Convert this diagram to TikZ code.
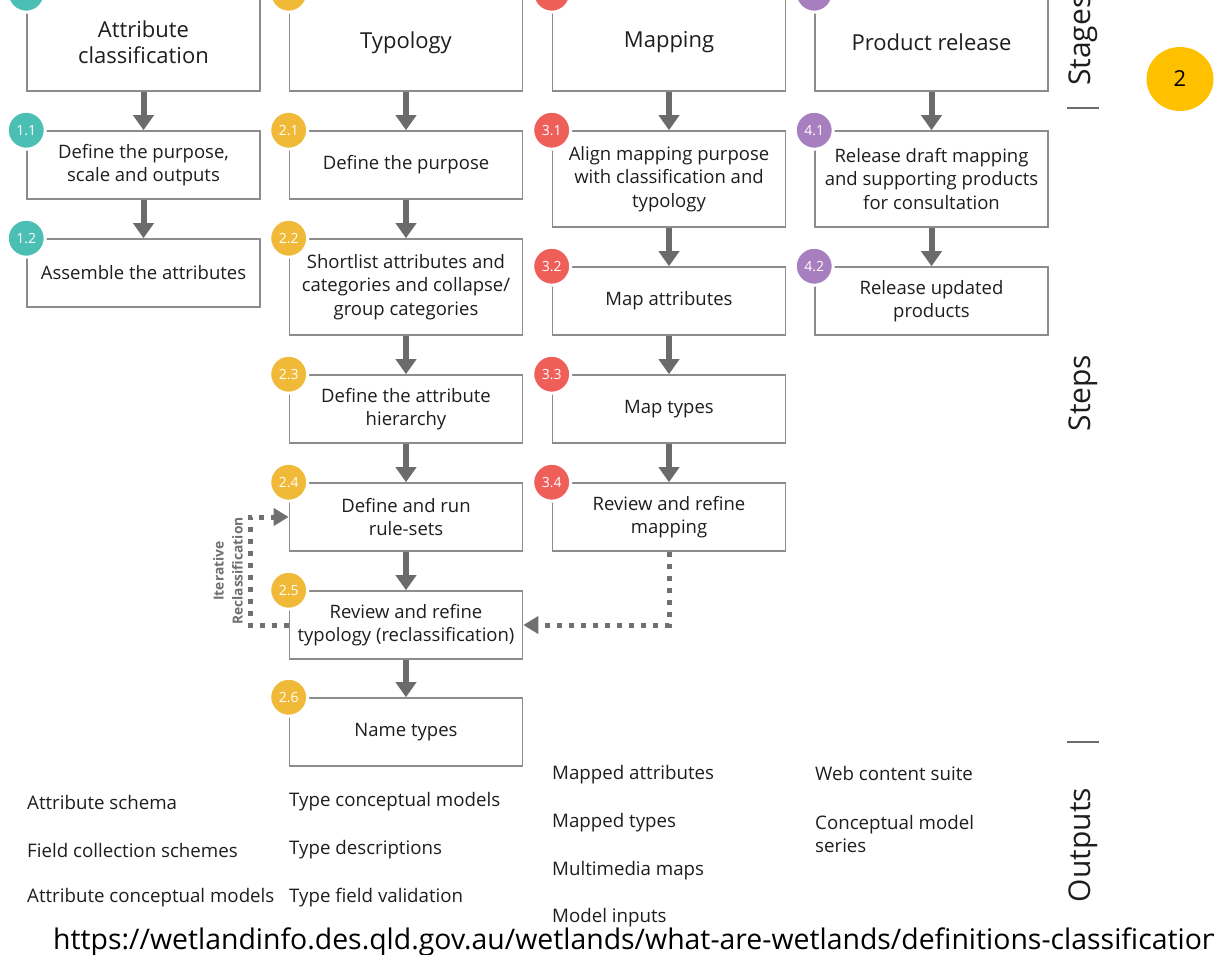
\documentclass[tikz,border=0pt]{standalone}
\usepackage{fontspec}
\setmainfont{Open Sans}
\usetikzlibrary{arrows.meta,shapes.geometric}

\definecolor{ink}{HTML}{1E1E1E}
\definecolor{boxgray}{HTML}{8C8C8C}
\definecolor{flowgray}{HTML}{6B6B6B}
\definecolor{loopgray}{HTML}{707070}
\definecolor{cTeal}{HTML}{4BBFB4}
\definecolor{cYellow}{HTML}{F1B938}
\definecolor{cRed}{HTML}{EF5F5A}
\definecolor{cPurple}{HTML}{A77FBF}
\definecolor{cGold}{HTML}{FFC000}

\newcommand\fStep{\fontsize{18.5}{23.5}\selectfont}
\newcommand\fStage{\fontsize{22}{26}\selectfont}
\newcommand\fBadge{\fontsize{14}{16}\selectfont}
\newcommand\fOut{\fontsize{18.7}{23.5}\selectfont}
\newcommand\fSide{\fontsize{30}{34}\selectfont}
\newcommand\fLink{\fontsize{28.4}{32}\selectfont}

\begin{document}
\begin{tikzpicture}[x=1pt,y=-1pt,
  box/.style={draw=boxgray, line width=1.6pt, fill=white, minimum width=233pt,
    minimum height=68pt, align=center, inner sep=0pt, font=\fStep, text=ink},
  tall/.style={minimum height=96pt},
  stagebox/.style={box, minimum height=97pt, font=\fStage},
  badge/.style={circle, draw=white, line width=3pt, minimum size=38pt,
    inner sep=0pt, font=\fBadge, text=white},
  flow/.style={draw=flowgray, line width=6pt,
    -{Triangle[width=20pt,length=15pt]}},
  loopline/.style={draw=loopgray, line width=5pt, dash pattern=on 5pt off 7pt,
    -{Triangle[width=17pt,length=15pt]}},
  outtext/.style={anchor=west, inner sep=0pt, font=\fOut, text=ink, align=left},
  side/.style={rotate=90, inner sep=0pt, font=\fSide, text=ink},
  sep/.style={draw=flowgray, line width=2.5pt}
]
\useasboundingbox (0,0) rectangle (1214,954);
\clip (0,0) rectangle (1214,954);

% stages
\node[stagebox] (s1) at (143.5,42.5) {Attribute\\classification};
\node[stagebox] (s2) at (406,42.5) {Typology};
\node[stagebox] (s3) at (669,42.5) {Mapping};
\node[stagebox] (s4) at (931.5,42.5) {Product release};

% steps of stage 1
\node[box] (s11) at (143.5,165) {Define the purpose,\\scale and outputs};
\node[box] (s12) at (143.5,273) {Assemble the attributes};

% steps of stage 2
\node[box] (s21) at (406,165) {Define the purpose};
\node[box,tall] (s22) at (406,287) {Shortlist attributes and\\categories and collapse/\\group categories};
\node[box] (s23) at (406,409) {Define the attribute\\hierarchy};
\node[box] (s24) at (406,517) {Define and run\\rule-sets};
\node[box] (s25) at (406,625) {Review and refine\\typology (reclassification)};
\node[box] (s26) at (406,732) {Name types};

% steps of stage 3
\node[box,tall] (s31) at (669,179) {Align mapping purpose\\with classification and\\typology};
\node[box] (s32) at (669,301) {Map attributes};
\node[box] (s33) at (669,409) {Map types};
\node[box] (s34) at (669,517) {Review and refine\\mapping};

% steps of stage 4
\node[box,tall] (s41) at (931.5,179) {Release draft mapping\\and supporting products\\for consultation};
\node[box] (s42) at (931.5,301) {Release updated\\products};

% sequence arrows
\draw[flow] (s1) -- (s11);
\draw[flow] (s11) -- (s12);
\draw[flow] (s2) -- (s21);
\draw[flow] (s21) -- (s22);
\draw[flow] (s22) -- (s23);
\draw[flow] (s23) -- (s24);
\draw[flow] (s24) -- (s25);
\draw[flow] (s25) -- (s26);
\draw[flow] (s3) -- (s31);
\draw[flow] (s31) -- (s32);
\draw[flow] (s32) -- (s33);
\draw[flow] (s33) -- (s34);
\draw[flow] (s4) -- (s41);
\draw[flow] (s41) -- (s42);

% feedback loops
\draw[loopline] (s34.south) |- (s25.east);
\coordinate (iterturn) at (250,625);
\draw[loopline] (s25.west) -- (iterturn) |- (s24.west);
\node[rotate=90, align=center, inner sep=0pt, text=loopgray,
  font=\fontsize{13.8}{19}\selectfont\bfseries] (iterlabel) at (228,571)
  {Iterative\\Reclassification};

% numbered badges
\node[badge, fill=cTeal] (b1) at (s1.north west) {1};
\node[badge, fill=cYellow] (b2) at (s2.north west) {2};
\node[badge, fill=cRed] (b3) at (s3.north west) {3};
\node[badge, fill=cPurple] (b4) at (s4.north west) {4};
\node[badge, fill=cTeal] (b11) at (s11.north west) {1.1};
\node[badge, fill=cTeal] (b12) at (s12.north west) {1.2};
\node[badge, fill=cYellow] (b21) at (s21.north west) {2.1};
\node[badge, fill=cYellow] (b22) at (s22.north west) {2.2};
\node[badge, fill=cYellow] (b23) at (s23.north west) {2.3};
\node[badge, fill=cYellow] (b24) at (s24.north west) {2.4};
\node[badge, fill=cYellow] (b25) at (s25.north west) {2.5};
\node[badge, fill=cYellow] (b26) at (s26.north west) {2.6};
\node[badge, fill=cRed] (b31) at (s31.north west) {3.1};
\node[badge, fill=cRed] (b32) at (s32.north west) {3.2};
\node[badge, fill=cRed] (b33) at (s33.north west) {3.3};
\node[badge, fill=cRed] (b34) at (s34.north west) {3.4};
\node[badge, fill=cPurple] (b41) at (s41.north west) {4.1};
\node[badge, fill=cPurple] (b42) at (s42.north west) {4.2};

% outputs
\node[outtext] (o11) at (27,802) {Attribute schema};
\node[outtext] (o12) at (27,850) {Field collection schemes};
\node[outtext] (o13) at (27,898) {Attribute conceptual models};
\node[outtext] (o21) at (289,802) {Type conceptual models};
\node[outtext] (o22) at (289,850) {Type descriptions};
\node[outtext] (o23) at (289,898) {Type field validation};
\node[outtext] (o31) at (552,775) {Mapped attributes};
\node[outtext] (o32) at (552,823) {Mapped types};
\node[outtext] (o33) at (552,871) {Multimedia maps};
\node[outtext] (o34) at (552,918) {Model inputs};
\node[outtext] (o41) at (815,773) {Web content suite};
\node[outtext] (o42) at (815,834) {Conceptual model\\series};

% row labels
\node[side, anchor=west] (lstages) at (1083,86) {Stages};
\node[side] (lsteps) at (1083,393) {Steps};
\node[side] (louts) at (1083,845) {Outputs};
\coordinate (sepA) at (1067,108);
\coordinate (sepB) at (1067,742);
\draw[sep] (sepA) -- ++(32,0);
\draw[sep] (sepB) -- ++(32,0);

% slide number
\node[ellipse, fill=cGold, minimum width=67pt, minimum height=64pt,
  inner sep=0pt, font=\fontsize{22}{26}\selectfont, text=black] (pg) at (1180,79) {2};

% source link
\node[anchor=base west, inner sep=0pt, font=\fLink, text=black] (src) at (53,949)
  {https://wetlandinfo.des.qld.gov.au/wetlands/what-are-wetlands/definitions-classification};
\end{tikzpicture}
\end{document}
